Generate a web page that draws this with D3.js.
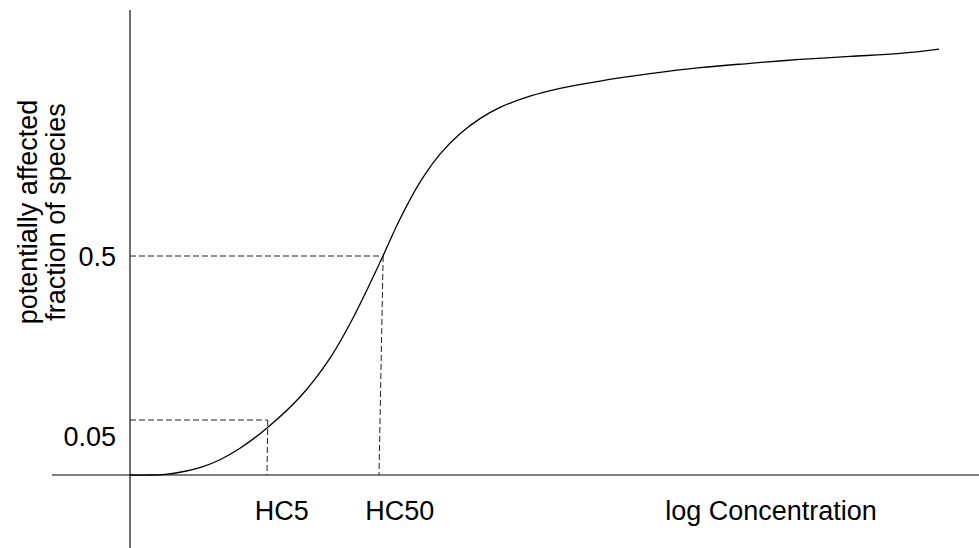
<!DOCTYPE html>
<html>
<head>
<meta charset="utf-8">
<script src="https://cdn.jsdelivr.net/npm/d3@7"></script>
<style>
  html, body { margin: 0; padding: 0; background: #fff; }
  svg { display: block; font-family: "Liberation Sans", Arial, sans-serif; }
</style>
</head>
<body>
<svg id="chart" width="979" height="548"></svg>
<script>
// Species sensitivity distribution (schematic): log concentration vs. fraction affected
const logConc = [0.000, 0.241, 0.422, 0.602, 0.880, 1.084, 1.325, 1.651, 2.048, 2.410, 2.687, 3.048, 3.241,
                 3.494, 3.735, 3.976, 4.217, 4.458, 4.819, 5.181, 5.663, 6.265, 6.867, 7.470, 8.072, 8.675, 9.277, 9.747];
const fractionAffected = [0.0000, 0.0000, 0.0006, 0.0025, 0.0077, 0.0139, 0.0243, 0.0427, 0.113, 0.220, 0.330, 0.500, 0.581,
                          0.671, 0.736, 0.783, 0.818, 0.844, 0.870, 0.888, 0.905, 0.922, 0.936, 0.946, 0.955, 0.962, 0.969, 0.979];

// Hazard concentrations and the fractions they correspond to
const hcNames = ["HC5", "HC50"];
const hcFraction = [0.05, 0.5];
const hcConcTop = [1.66, 3.05];
const hcConcBottom = [1.65, 3.00];

const yTickValues = [0.05, 0.5];
const yTickLabels = ["0.05", "0.5"];
const xTitle = "log Concentration";
const yTitleLines = ["potentially affected", "fraction of species"];

const svg = d3.select("#chart");
const fontSize = 27;

const x = d3.scaleLinear().domain([0, 10]).range([130, 960]);
// Schematic (non-uniform) fraction axis
const y = d3.scaleLinear().domain([0, 0.05, 0.5, 1]).range([475, 420, 256, 40]);

// Axis lines
svg.append("line")
  .attr("x1", 52).attr("x2", 979)
  .attr("y1", y(0)).attr("y2", y(0))
  .attr("stroke", "#555").attr("stroke-width", 1.3);
svg.append("line")
  .attr("x1", x(0)).attr("x2", x(0))
  .attr("y1", 10).attr("y2", 548)
  .attr("stroke", "#111").attr("stroke-width", 1.2);

// Dashed guides from each HC point to the axes
const hc = hcNames.map((n, i) => ({ name: n, f: hcFraction[i], top: hcConcTop[i], bottom: hcConcBottom[i] }));
const guides = svg.append("g")
  .attr("fill", "none").attr("stroke", "#222").attr("stroke-width", 1)
  .attr("stroke-dasharray", "6,3");
guides.selectAll("path.h").data(hc).join("path").attr("class", "h")
  .attr("d", d => `M${x(0)},${y(d.f)}H${x(d.top)}`);
guides.selectAll("path.v").data(hc).join("path").attr("class", "v")
  .attr("d", d => `M${x(d.top)},${y(d.f)}L${x(d.bottom)},${y(0)}`);

// Distribution curve
const line = d3.line()
  .x((d, i) => x(logConc[i]))
  .y(d => y(d))
  .curve(d3.curveCatmullRom.alpha(0.5));
svg.append("path")
  .datum(fractionAffected)
  .attr("fill", "none")
  .attr("stroke", "#000")
  .attr("stroke-width", 1.3)
  .attr("d", line);

// Y tick labels
const yAxis = d3.axisLeft(y)
  .tickValues(yTickValues)
  .tickFormat((d, i) => yTickLabels[i])
  .tickSize(0)
  .tickPadding(14);
const ya = svg.append("g").attr("transform", `translate(${x(0)},0)`).call(yAxis);
ya.select(".domain").remove();
ya.selectAll("text")
  .attr("font-size", fontSize)
  .attr("font-family", "Liberation Sans, Arial, sans-serif")
  .attr("fill", "#000")
  .attr("dy", d => d === 0.05 ? "0.95em" : "0.34em");

// HC labels under the x axis
svg.selectAll("text.hc").data(hc).join("text").attr("class", "hc")
  .attr("x", d => x(d.top) - (d.f < 0.1 ? 13 : 18))
  .attr("y", 520)
  .attr("font-size", fontSize)
  .text(d => d.name);

// Axis titles
svg.append("text")
  .attr("x", 771).attr("y", 520)
  .attr("text-anchor", "middle")
  .attr("font-size", fontSize)
  .text(xTitle);

svg.append("text")
  .attr("transform", "translate(37,212) rotate(-90)")
  .attr("text-anchor", "middle")
  .attr("font-size", fontSize)
  .selectAll("tspan").data(yTitleLines).join("tspan")
  .attr("x", 0)
  .attr("dy", (d, i) => i === 0 ? 0 : "1.04em")
  .text(d => d);
</script>
</body>
</html>
